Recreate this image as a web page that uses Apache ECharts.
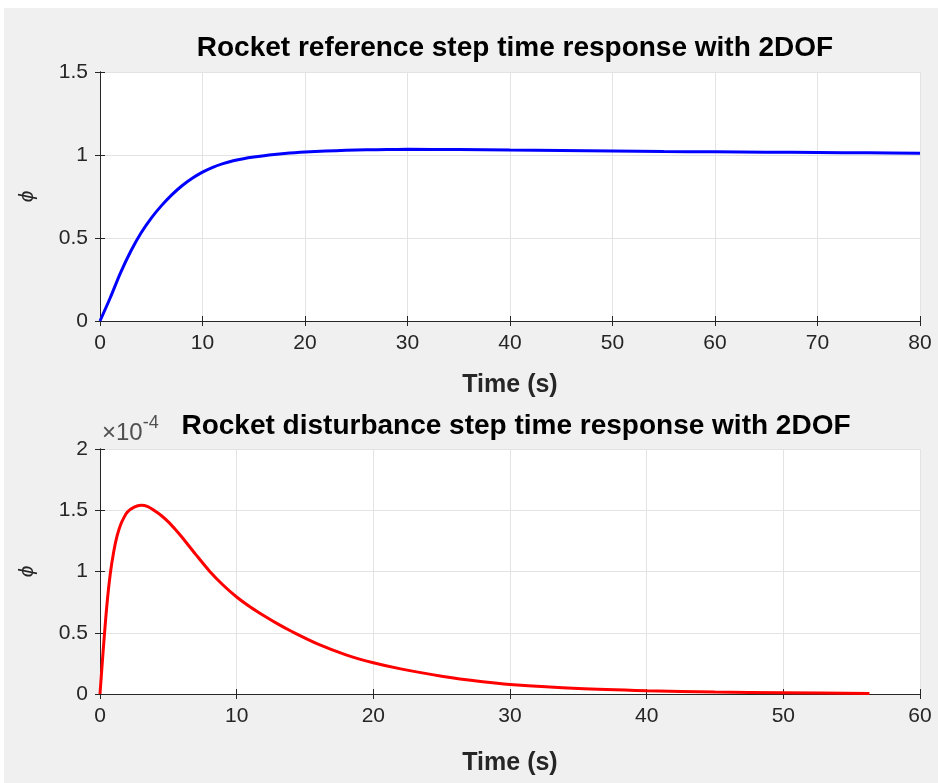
<!DOCTYPE html>
<html><head><meta charset="utf-8">
<script src="https://cdn.jsdelivr.net/npm/echarts@6/dist/echarts.min.js"></script>
<style>html,body{margin:0;padding:0;background:#fff}#c{width:938px;height:783px}</style>
</head><body><div id="c"></div>
<script>
// Top plot: reference step response
const refTime = [0, 1, 2, 3, 4, 5, 6, 7, 8, 9, 10, 11, 12, 13, 14, 15, 16, 17, 18, 19, 20, 22, 24, 26, 28, 30, 35, 40, 45, 50, 55, 60, 65, 70, 75, 80];
const refPhi  = [0, 0.14, 0.29, 0.42, 0.53, 0.62, 0.695, 0.76, 0.815, 0.86, 0.897, 0.926, 0.948, 0.965, 0.978, 0.988, 0.996, 1.003, 1.009, 1.014, 1.018, 1.024, 1.028, 1.031, 1.033, 1.034, 1.033, 1.030, 1.027, 1.024, 1.021, 1.019, 1.017, 1.015, 1.013, 1.011];
// Bottom plot: disturbance step response (values in units of 1e-4)
const distTime = [0, 0.25, 0.5, 0.75, 1, 1.25, 1.5, 1.75, 2, 2.5, 3, 3.5, 4, 4.5, 5, 5.5, 6, 7, 8, 9, 10, 11, 12, 13, 14, 16, 18, 20, 22, 25, 28, 30, 35, 40, 45, 50, 56.3];
const distPhi  = [0, 0.38, 0.72, 0.98, 1.16, 1.29, 1.38, 1.44, 1.485, 1.525, 1.54, 1.53, 1.495, 1.455, 1.405, 1.345, 1.28, 1.14, 1.005, 0.89, 0.792, 0.71, 0.638, 0.572, 0.512, 0.405, 0.32, 0.255, 0.205, 0.145, 0.10, 0.078, 0.045, 0.027, 0.016, 0.010, 0.005];

const titles = ['Rocket reference step time response with 2DOF', 'Rocket disturbance step time response with 2DOF'];
const xLabel = 'Time (s)';
const yLabel = 'ϕ';
const refX = {min: 0, max: 80, interval: 10};
const refY = {min: 0, max: 1.5, interval: 0.5};
const distX = {min: 0, max: 60, interval: 10};
const distY = {min: 0, max: 2, interval: 0.5};

const FONT = '"Liberation Sans", Arial, Helvetica, sans-serif';
const AX = '#262626';
const GRIDC = '#e3e3e3';

function xAxes(gi, s, gap) {
  return [
    {type: 'value', gridIndex: gi, min: s.min, max: s.max, interval: s.interval, position: 'bottom',
     name: xLabel, nameLocation: 'middle', nameGap: gap,
     nameTextStyle: {fontFamily: FONT, fontSize: 25, fontWeight: 'bold', color: AX},
     axisLine: {show: true, lineStyle: {color: AX, width: 1}},
     axisTick: {show: true, inside: true, length: 5, lineStyle: {color: AX}},
     axisLabel: {fontFamily: FONT, fontSize: 21, color: AX, margin: 12},
     splitLine: {show: true, lineStyle: {color: GRIDC, width: 1}}},
    {type: 'value', gridIndex: gi, min: s.min, max: s.max, interval: s.interval, position: 'top',
     axisLine: {show: true, lineStyle: {color: AX, width: 1}},
     axisTick: {show: true, inside: true, length: 5, lineStyle: {color: AX}},
     axisLabel: {show: false}, splitLine: {show: false}}
  ];
}
function yAxes(gi, s) {
  return [
    {type: 'value', gridIndex: gi, min: s.min, max: s.max, interval: s.interval, position: 'left',
     name: yLabel, nameLocation: 'middle', nameGap: 62, nameRotate: 90,
     nameTextStyle: {fontFamily: FONT, fontSize: 21, fontStyle: 'italic', color: AX},
     axisLine: {show: true, lineStyle: {color: AX, width: 1}},
     axisTick: {show: true, inside: true, length: 5, lineStyle: {color: AX}},
     axisLabel: {fontFamily: FONT, fontSize: 21, color: AX, margin: 12},
     splitLine: {show: true, lineStyle: {color: GRIDC, width: 1}}},
    {type: 'value', gridIndex: gi, min: s.min, max: s.max, interval: s.interval, position: 'right',
     axisLine: {show: true, lineStyle: {color: AX, width: 1}},
     axisTick: {show: true, inside: true, length: 5, lineStyle: {color: AX}},
     axisLabel: {show: false}, splitLine: {show: false}}
  ];
}

const chart = echarts.init(document.getElementById('c'), null, {renderer: 'canvas'});
chart.setOption({
  backgroundColor: '#f0f0f0',
  animation: false,
  title: [
    {text: titles[0], left: 510, top: 29, textAlign: 'center',
     textStyle: {fontFamily: FONT, fontSize: 28, fontWeight: 'bold', color: '#000'}},
    {text: titles[1], left: 511, top: 407, textAlign: 'center',
     textStyle: {fontFamily: FONT, fontSize: 28, fontWeight: 'bold', color: '#000'}}
  ],
  graphic: [
    {type: 'rect', left: 0, top: 0, shape: {width: 938, height: 8}, style: {fill: '#fff'}, silent: true},
    {type: 'rect', left: 0, top: 0, shape: {width: 4, height: 783}, style: {fill: '#fff'}, silent: true},
    {type: 'text', left: 102, top: 414, silent: true,
     style: {text: '{a|×10}{b|-4}', rich: {
       a: {fontFamily: FONT, fontSize: 24, fill: '#505050', padding: [7, 0, 0, 0]},
       b: {fontFamily: FONT, fontSize: 18, fill: '#505050', verticalAlign: 'top', padding: [0, 0, 10, 0]}}}}
  ],
  grid: [
    {left: 100, right: 18, top: 72, height: 249, show: true, backgroundColor: '#fff', borderWidth: 0},
    {left: 100, right: 18, top: 449, height: 245, show: true, backgroundColor: '#fff', borderWidth: 0}
  ],
  xAxis: [...xAxes(0, refX, 52), ...xAxes(1, distX, 57)],
  yAxis: [...yAxes(0, refY), ...yAxes(1, distY)],
  series: [
    {type: 'line', xAxisIndex: 0, yAxisIndex: 0, showSymbol: false, smooth: 0.3,
     lineStyle: {color: '#0000ff', width: 3}, data: refTime.map((t, i) => [t, refPhi[i]])},
    {type: 'line', xAxisIndex: 2, yAxisIndex: 2, showSymbol: false, smooth: 0.3,
     lineStyle: {color: '#ff0000', width: 3}, data: distTime.map((t, i) => [t, distPhi[i]])}
  ]
});
</script></body></html>
